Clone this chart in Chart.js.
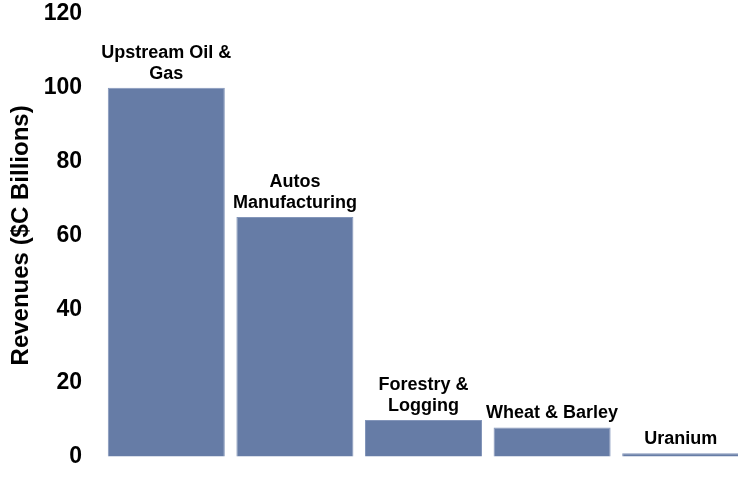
<!DOCTYPE html>
<html>
<head>
<meta charset="utf-8">
<script src="https://cdn.jsdelivr.net/npm/chart.js@4"></script>
<style>
  html, body { margin: 0; padding: 0; background: #fff; overflow: hidden; }
  #wrap { width: 750px; height: 480px; }
</style>
</head>
<body>
<div id="wrap"><canvas id="myChart" width="750" height="480"></canvas></div>
<script>
// categorias e valores
const categorias = ['Upstream Oil & Gas', 'Autos Manufacturing', 'Forestry & Logging', 'Wheat & Barley', 'Uranium'];
const rotulos = [['Upstream Oil &', 'Gas'], ['Autos', 'Manufacturing'], ['Forestry &', 'Logging'], ['Wheat & Barley'], ['Uranium']];
const receitas = [100, 65, 10, 8, 1];
const ticksY = [0, 20, 40, 60, 80, 100, 120];

const fonte = '"Liberation Sans", Arial, sans-serif';

// escreve o nome de cada barra logo acima dela
const rotuloBarras = {
    id: 'rotuloBarras',
    afterDatasetsDraw(chart) {
        const ctx = chart.ctx;
        const meta = chart.getDatasetMeta(0);
        ctx.save();
        ctx.font = 'bold 18px ' + fonte;
        ctx.fillStyle = '#000';
        ctx.textAlign = 'center';
        ctx.textBaseline = 'alphabetic';
        meta.data.forEach((barra, i) => {
            const linhas = rotulos[i];
            let y = barra.y - 9;
            for (let j = linhas.length - 1; j >= 0; j--) {
                ctx.fillText(linhas[j], barra.x, y);
                y -= 21;
            }
        });
        ctx.restore();
    }
};

const config = {
    type: 'bar',
    data: {
        labels: categorias,
        datasets: [{
            data: receitas,
            backgroundColor: '#667ca6',
            borderColor: '#8496ba',
            borderWidth: 1,
            categoryPercentage: 1,
            barPercentage: 0.91
        }]
    },
    options: {
        responsive: false,
        animation: false,
        layout: { padding: { top: 4, bottom: 23, right: 5, left: 0 } },
        plugins: { legend: { display: false }, tooltip: { enabled: false } },
        scales: {
            x: { display: false },
            y: {
                min: 0,
                max: 120,
                afterBuildTicks(scale) { scale.ticks = ticksY.map(v => ({ value: v })); },
                afterFit(scale) { scale.width = 102; },
                // marcas invisiveis so para afastar os numeros do eixo
                grid: { color: 'rgba(0,0,0,0)', drawOnChartArea: false, drawTicks: true, tickLength: 20 },
                border: { display: false },
                ticks: {
                    color: '#000',
                    padding: 0,
                    font: { family: fonte, size: 23, weight: 'bold' }
                },
                title: {
                    display: true,
                    text: 'Revenues ($C Billions)',
                    color: '#000',
                    padding: { top: 7, bottom: 0 },
                    font: { family: fonte, size: 24, weight: 'bold' }
                }
            }
        }
    },
    plugins: [rotuloBarras]
};

const myChart = new Chart(document.getElementById('myChart').getContext('2d'), config);
</script>
</body>
</html>
